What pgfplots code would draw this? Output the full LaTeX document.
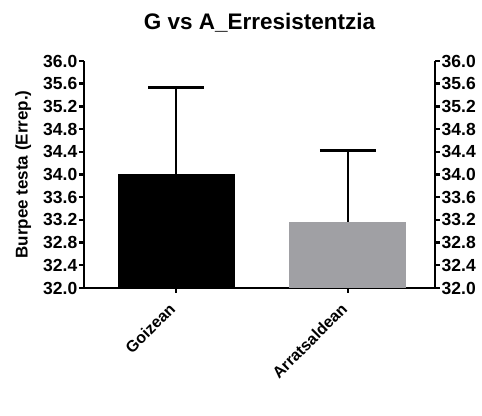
\documentclass[border=0pt]{standalone}
\usepackage{pgfplots}
\pgfplotsset{compat=1.18}
\usepackage{fontspec}
\setmainfont{Liberation Sans}
\definecolor{bargray}{RGB}{160,160,164}

\pgfplotsset{
  burpee/.style={
    scale only axis,
    width=351pt, height=227pt,
    xmin=-0.535, xmax=1.506,
    ymin=32, ymax=36,
    ytick={32,32.4,...,36.01},
    /pgf/number format/.cd, fixed, fixed zerofill, precision=1, assume math mode=true,
    /pgfplots/.cd,
    tick align=outside,
    major tick length=5pt,
    axis line style={line width=2.4pt, -},
    tick style={line width=2.4pt, black},
    yticklabel style={font=\fontsize{17.5}{19}\selectfont\bfseries, inner sep=1.5pt},
  },
  meansd/.style={
    error bars/.cd, y dir=plus, y explicit,
    error bar style={line width=2.4pt, black},
    error mark options={rotate=90, mark size=28pt, line width=2.4pt, black},
  },
}

\begin{document}
\begin{tikzpicture}
\begin{axis}[burpee,
  name=ax,
  axis x line*=bottom,
  axis y line*=left,
  xtick={0,1},
  xticklabels={Goizean, Arratsaldean},
  xticklabel style={font=\fontsize{16}{18}\selectfont\bfseries, xshift=-8pt, yshift=-6pt, rotate=45, anchor=north east, inner sep=2pt},
  ylabel={Burpee testa (Errep.)},
  ylabel style={font=\fontsize{17}{19}\selectfont\bfseries},
  ylabel shift=7pt,
  title={G vs A\_Erresistentzia},
  title style={font=\fontsize{22.5}{24}\selectfont\bfseries, at={(0.5,1)}, anchor=base, yshift=25pt},
  ybar, bar shift=0pt, bar width=117pt,
]
  % group means with upper standard deviation
  \addplot[draw=none, fill=black, meansd]
    coordinates {(0,34.0) +- (0,1.53)};
  \addplot[draw=none, fill=bargray, meansd]
    coordinates {(1,33.17) +- (0,1.25)};
  \node[font=\fontsize{17}{19}\selectfont\bfseries, anchor=base] at (rel axis cs:0.5,0) [yshift=-122pt, xshift=2pt] {(a)};
\end{axis}
\begin{axis}[burpee,
  axis y line*=right,
  axis x line=none,
  xtick=\empty,
]
\end{axis}
\pgfresetboundingbox
\path ([shift={(-84pt,-128pt)}]ax.south west) rectangle ([shift={(47pt,61pt)}]ax.north east);
\end{tikzpicture}
\end{document}
